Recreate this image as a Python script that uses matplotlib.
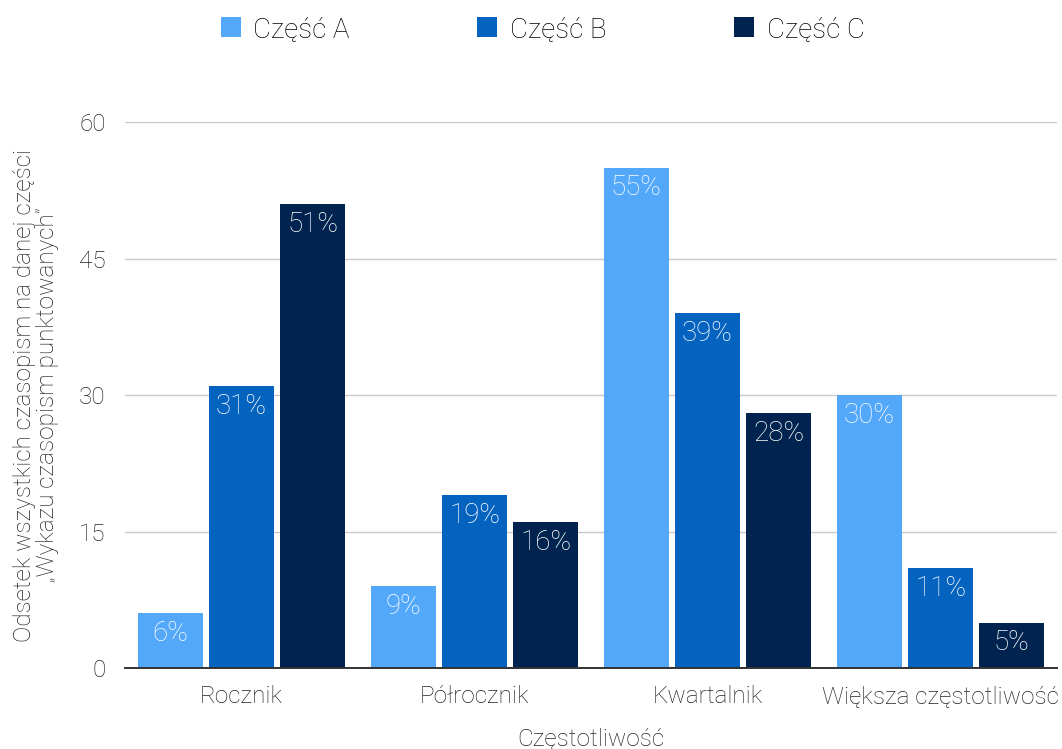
import numpy as np
import matplotlib
matplotlib.use('Agg')
import matplotlib.pyplot as plt
from matplotlib.patches import Patch

# data
categories = ['Rocznik', 'Półrocznik', 'Kwartalnik', 'Większa częstotliwość']
series_names = ['Część A', 'Część B', 'Część C']
part_a = [6, 9, 55, 30]
part_b = [31, 19, 39, 11]
part_c = [51, 16, 28, 5]
y_ticks = [0, 15, 30, 45, 60]

colors = ['#53a8fa', '#0563c0', '#00244f']

plt.rcParams['font.family'] = ['Roboto', 'DejaVu Sans']
plt.rcParams['font.weight'] = 'light'
fs = 17.5
fs_big = 20

fig = plt.figure(figsize=(10.62, 7.49), dpi=100)
ax = fig.add_axes([0.1177, 0.1081, 0.8776, 0.729])

x = np.arange(len(categories))
width = 0.279
step = 0.305
for i, (vals, col) in enumerate(zip([part_a, part_b, part_c], colors)):
    bars = ax.bar(x + (i - 1) * step, vals, width, color=col, zorder=3)
    for b, v in zip(bars, vals):
        ax.annotate(f'{v}%', (b.get_x() + b.get_width() / 2, v),
                    xytext=(0, -5), textcoords='offset points',
                    ha='center', va='top', color='white', fontsize=fs_big,
                    fontweight='light', zorder=4)

ax.set_xlim(-0.5, 3.5)
ax.set_ylim(0, 60)
ax.set_yticks(y_ticks)
ax.set_xticks(x)
ax.set_xticklabels(categories)
ax.tick_params(axis='both', length=0, labelsize=fs, colors='#222222')
ax.tick_params(axis='y', pad=14)
ax.tick_params(axis='x', pad=12)
ax.grid(axis='y', color='#c8c8c8', linewidth=1, zorder=0)
for s in ['top', 'right', 'left']:
    ax.spines[s].set_visible(False)
ax.spines['bottom'].set_color('#333333')
ax.spines['bottom'].set_linewidth(1.4)
ax.spines['bottom'].set_zorder(5)

ax.set_xlabel('Częstotliwość', fontsize=fs, color='#222222', labelpad=14,
              fontweight='light')
ax.set_ylabel('Odsetek wszystkich czasopism na danej części\n„Wykazu czasopism punktowanych”',
              fontsize=fs, color='#222222', labelpad=14, linespacing=1.05,
              fontweight='light')

handles = [Patch(facecolor=c, edgecolor='none') for c in colors]
fig.legend(handles, series_names, loc='center', bbox_to_anchor=(0.511, 0.961),
           ncol=3, frameon=False, fontsize=fs_big, handlelength=0.72,
           handleheight=0.72, handletextpad=0.45, columnspacing=4.6)

fig.savefig('out.png', dpi=100)
